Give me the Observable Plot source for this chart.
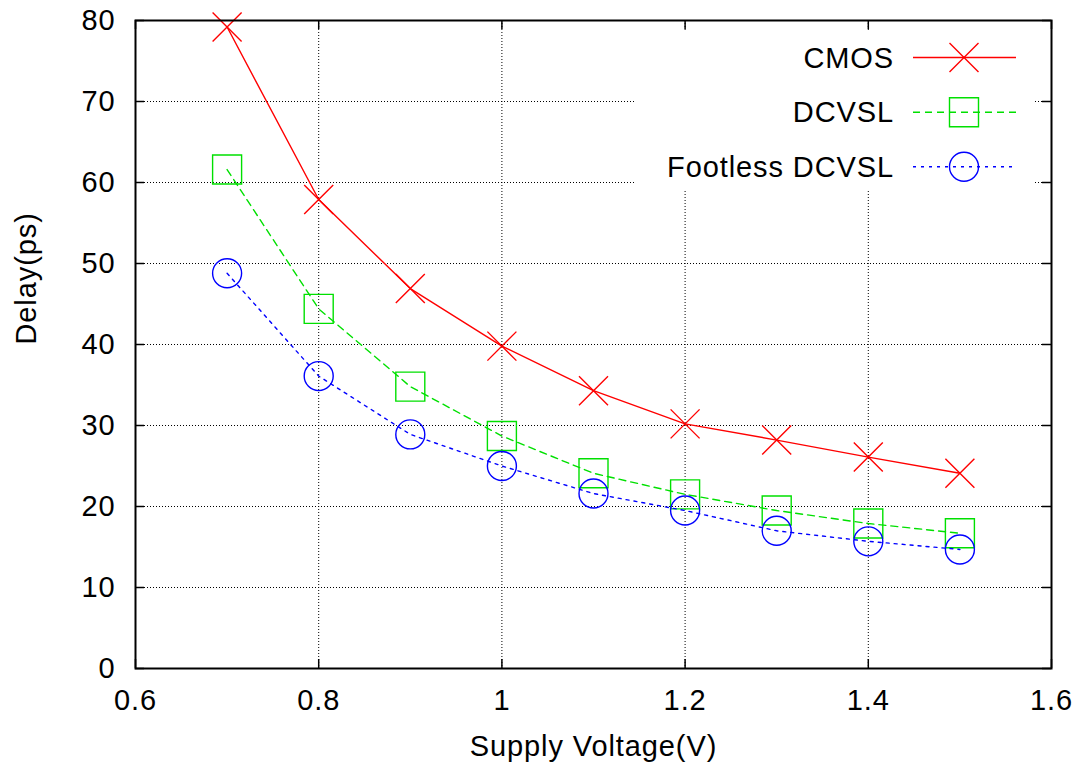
<!DOCTYPE html>
<html>
<head>
<meta charset="utf-8">
<script src="https://cdn.jsdelivr.net/npm/d3@7"></script>
<script src="https://cdn.jsdelivr.net/npm/@observablehq/plot@0.6"></script>
<style>
  html, body { margin: 0; padding: 0; background: #fff; }
</style>
</head>
<body>
<div id="chart"></div>
<script>
// ---- data ----
const voltages = [0.7, 0.8, 0.9, 1.0, 1.1, 1.2, 1.3, 1.4, 1.5];
const cmos     = [79.2, 57.9, 46.9, 39.8, 34.3, 30.2, 28.2, 26.1, 24.1];
const dcvsl    = [61.6, 44.4, 34.8, 28.7, 24.1, 21.5, 19.5, 17.9, 16.7];
const footless = [48.8, 36.1, 28.9, 25.0, 21.6, 19.5, 17.0, 15.7, 14.7];
const seriesNames = ["CMOS", "DCVSL", "Footless DCVSL"];
const xTicks = [0.6, 0.8, 1.0, 1.2, 1.4, 1.6];
const yTicks = [0, 10, 20, 30, 40, 50, 60, 70, 80];
const xLabel = "Supply Voltage(V)";
const yLabel = "Delay(ps)";

// ---- styling ----
const colors = ["#ff0000", "#00e000", "#0000ff"];
const dashes = [null, "7,5", "3,5"];
const FONT = "'Liberation Sans', Arial, Helvetica, sans-serif";
const FS = 29;

// custom symbols: size = pi*r^2 -> half-extent r
const symTimes = {draw(ctx, size) { const r = Math.sqrt(size / Math.PI); ctx.moveTo(-r, -r); ctx.lineTo(r, r); ctx.moveTo(-r, r); ctx.lineTo(r, -r); }};
const symSquare = {draw(ctx, size) { const r = Math.sqrt(size / Math.PI); ctx.rect(-r, -r, 2 * r, 2 * r); }};
const symCircle = {draw(ctx, size) { const r = Math.sqrt(size / Math.PI); ctx.moveTo(r, 0); ctx.arc(0, 0, r, 0, 2 * Math.PI); }};
const symbols = [symTimes, symSquare, symCircle];

const allSeries = [cmos, dcvsl, footless].map((vals, i) =>
  voltages.map((v, j) => ({x: v, y: vals[j], s: seriesNames[i]})));

const W = 1082, H = 764;
const mL = 135, mR = 31, mT = 20, mB = 96;
const frameW = W - mL - mR, frameH = H - mT - mB;
const TL = 9; // tick length

const marks = [
  Plot.gridX(xTicks, {stroke: "black", strokeOpacity: 1, strokeWidth: 1, strokeDasharray: "1,2"}),
  Plot.gridY(yTicks, {stroke: "black", strokeOpacity: 1, strokeWidth: 1, strokeDasharray: "1,2"}),
];
allSeries.forEach((data, i) => {
  marks.push(Plot.line(data, {x: "x", y: "y", curve: "linear", stroke: colors[i], strokeWidth: 1.4, strokeDasharray: dashes[i]}));
  marks.push(Plot.dot(data, {x: "x", y: "y", symbol: () => symbols[i], r: 14.5, stroke: colors[i], strokeWidth: 1.4, fill: "none"}));
});
marks.push(
  // inward ticks on four sides
  Plot.tickX(xTicks, {x: d => d, insetTop: frameH - TL, stroke: "black", strokeWidth: 1.5}),
  Plot.tickX(xTicks, {x: d => d, insetBottom: frameH - TL, stroke: "black", strokeWidth: 1.5}),
  Plot.tickY(yTicks, {y: d => d, insetRight: frameW - TL, stroke: "black", strokeWidth: 1.5}),
  Plot.tickY(yTicks, {y: d => d, insetLeft: frameW - TL, stroke: "black", strokeWidth: 1.5}),
  Plot.frame({stroke: "black", strokeWidth: 2}),
  Plot.axisX({ticks: xTicks, tickSize: 0, tickPadding: 21, tickFormat: d => String(d), label: null, fontSize: FS}),
  Plot.axisY({ticks: yTicks, tickSize: 0, tickPadding: 20, tickFormat: d => String(d), label: null, fontSize: FS}),
  Plot.text([xLabel], {frameAnchor: "bottom", text: d => d, dy: 87, lineAnchor: "bottom", fontSize: FS, fill: "black"}),
  Plot.text([yLabel], {frameAnchor: "left", text: d => d, dx: -100, rotate: -90, lineAnchor: "bottom", fontSize: FS, fill: "black"})
);

const plot = Plot.plot({
  width: W, height: H,
  marginLeft: mL, marginRight: mR, marginTop: mT, marginBottom: mB,
  x: {type: "linear", domain: [0.6, 1.6]},
  y: {type: "linear", domain: [0, 80]},
  style: {fontFamily: FONT, fontSize: FS + "px", letterSpacing: "0.9px", background: "white", color: "black", overflow: "visible"},
  marks
});

// ---- legend (gnuplot-style key, top right) ----
const svg = d3.select(plot);
svg.append("rect").attr("x", 636).attr("y", 31).attr("width", 397).attr("height", 159).attr("fill", "white");
const rowsY = [57.5, 112.3, 166.7];
const lg = svg.append("g").attr("font-family", FONT).attr("font-size", FS);
const symPaths = symbols.map(s => d3.symbol(s, Math.PI * 14.5 * 14.5)());
seriesNames.forEach((name, i) => {
  const y = rowsY[i];
  lg.append("text").attr("x", 894).attr("y", y + 10).attr("text-anchor", "end").attr("fill", "black").text(name);
  lg.append("line").attr("x1", 913).attr("x2", 1016).attr("y1", y).attr("y2", y)
    .attr("stroke", colors[i]).attr("stroke-width", 1.4).attr("stroke-dasharray", dashes[i]);
  lg.append("path").attr("d", symPaths[i]).attr("transform", `translate(964,${y})`)
    .attr("fill", "none").attr("stroke", colors[i]).attr("stroke-width", 1.4);
});

document.getElementById("chart").appendChild(plot);
</script>
</body>
</html>
